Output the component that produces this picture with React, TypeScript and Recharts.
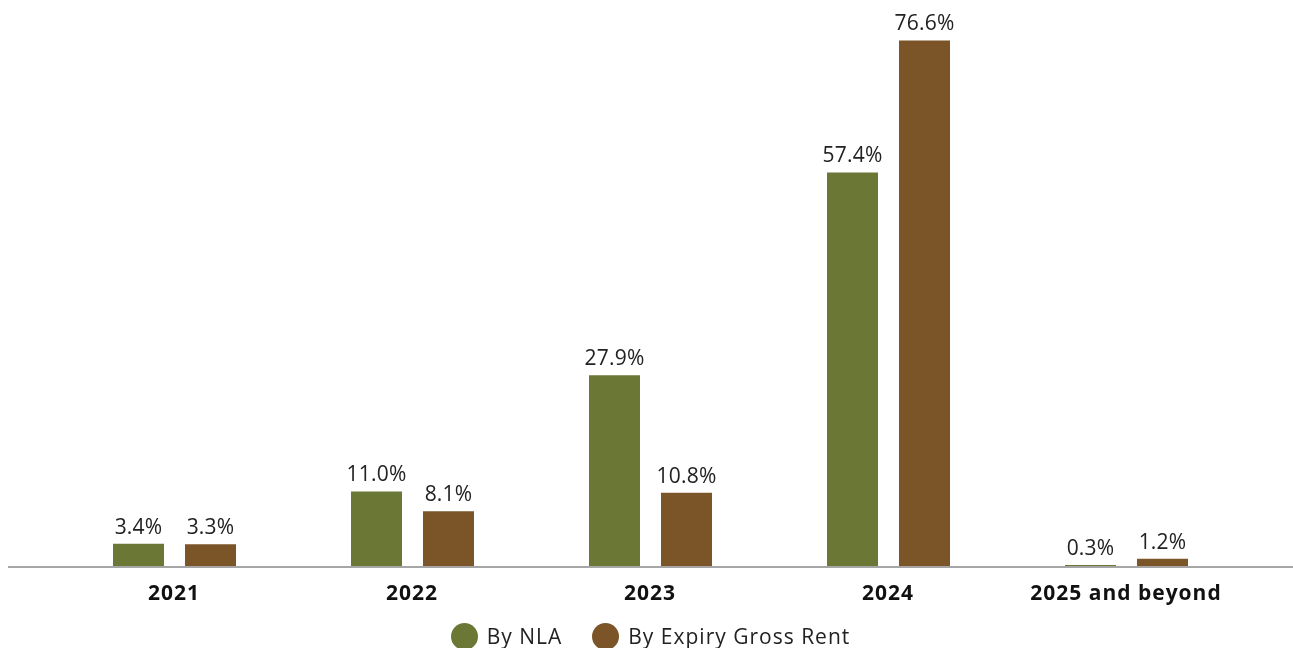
import { BarChart, Bar, XAxis, YAxis, Legend, LabelList } from "recharts";

const categories = ["2021", "2022", "2023", "2024", "2025 and beyond"];
const byNla = [3.4, 11.0, 27.9, 57.4, 0.3];
const byRent = [3.3, 8.1, 10.8, 76.6, 1.2];
const seriesNames = ["By NLA", "By Expiry Gross Rent"];
const seriesColors = ["#6b7735", "#7b5428"];

const data = categories.map((year, i) => ({ year, nla: byNla[i], rent: byRent[i] }));

const FONT = "'Open Sans', sans-serif";
const pct = (v: any) => `${Number(v).toFixed(1)}%`;
const labelStyle = { fill: "#222", fontSize: 21, fontFamily: FONT, letterSpacing: 0.2 };

const LegendContent = () => (
  <div style={{ display: "flex", justifyContent: "center", gap: 30, paddingTop: 10, fontFamily: FONT, fontSize: 21, letterSpacing: 1, color: "#222" }}>
    {seriesNames.map((name, i) => (
      <div key={name} style={{ display: "flex", alignItems: "center", gap: 9 }}>
        <span style={{ width: 27, height: 27, borderRadius: "50%", background: seriesColors[i], display: "inline-block" }} />
        <span>{name}</span>
      </div>
    ))}
  </div>
);

const App = () => {
  return (
    // fixed to the viewport so the page never scrolls
    <div style={{ position: "fixed", left: 0, top: 0, width: 1293, height: 648, fontFamily: FONT }}>
      <BarChart
        width={1293}
        height={648}
        data={data}
        margin={{ top: 17, right: 0, bottom: 0, left: 8 }}
        barSize={51}
        barGap={21}
      >
        <XAxis
          dataKey="year"
          padding={{ left: 47, right: 48 }}
          axisLine={{ stroke: "#a6a6a6", strokeWidth: 2 }}
          tickLine={false}
          tickMargin={12}
          tick={{ fontSize: 21, fontWeight: 700, fill: "#111", fontFamily: FONT, letterSpacing: 1 }}
          height={45}
        />
        <YAxis hide domain={[0, 80]} />
        <Legend verticalAlign="bottom" height={36} content={<LegendContent />} />
        <Bar dataKey="nla" name={seriesNames[0]} fill={seriesColors[0]} isAnimationActive={false}>
          <LabelList dataKey="nla" position="top" offset={10} formatter={pct} style={labelStyle} />
        </Bar>
        <Bar dataKey="rent" name={seriesNames[1]} fill={seriesColors[1]} isAnimationActive={false}>
          <LabelList dataKey="rent" position="top" offset={10} formatter={pct} style={labelStyle} />
        </Bar>
      </BarChart>
    </div>
  );
};

export default App;
